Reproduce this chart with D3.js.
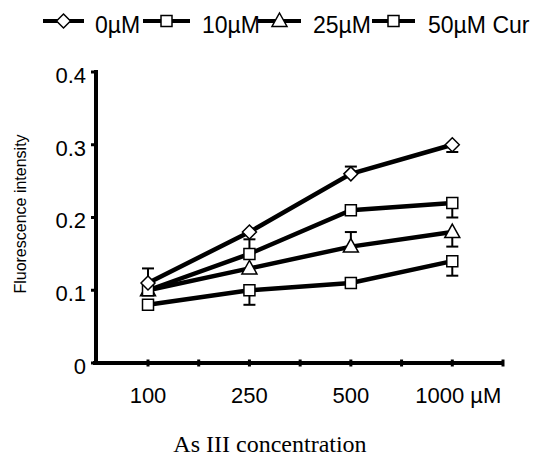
<!DOCTYPE html>
<html>
<head>
<meta charset="utf-8">
<script src="https://cdn.jsdelivr.net/npm/d3@7"></script>
<style>
  body { margin: 0; background: #fff; }
  svg { display: block; }
</style>
</head>
<body>
<svg id="chart" width="537" height="457"></svg>
<script>
// concentrations on the x axis (only even slots carry data)
var concentrations = ["100", "250", "500", "1000 \u00b5M"];
var slotCount = 8;
var yTicks = [0, 0.1, 0.2, 0.3, 0.4];
var seriesNames = ["0\u00b5M", "10\u00b5M", "25\u00b5M", "50\u00b5M Cur"];
var seriesShapes = ["diamond", "square", "triangle", "square"];

var values0 = [0.11, 0.18, 0.26, 0.30];
var values10 = [0.10, 0.15, 0.21, 0.22];
var values25 = [0.10, 0.13, 0.16, 0.18];
var values50 = [0.08, 0.10, 0.11, 0.14];

// error bars: positive drawn upward, negative drawn downward, 0 = none
var err0 = [0.02, 0, 0.01, -0.01];
var err10 = [0, 0.02, 0, -0.02];
var err25 = [0, 0, 0.02, -0.02];
var err50 = [0, -0.02, 0, -0.02];

var allValues = [values0, values10, values25, values50];
var allErr = [err0, err10, err25, err50];

var sans = "'Liberation Sans', Arial, sans-serif";
var serif = "'Liberation Serif', 'Times New Roman', serif";

var svg = d3.select("#chart");

var x = d3.scaleLinear().domain([0, 7]).range([148, 503]);
var y = d3.scaleLinear().domain([0, 0.4]).range([363, 72]);

function symbolPath(shape) {
    if (shape == "diamond") return "M0,-7L7,0L0,7L-7,0Z";
    if (shape == "triangle") return "M0,-8L7.5,5.5L-7.5,5.5Z";
    return "M-5.5,-5.5H5.5V5.5H-5.5Z";
}

// axes
var axisG = svg.append("g");
axisG.append("line")
    .attr("x1", 96).attr("x2", 96)
    .attr("y1", y(0.4) - 2).attr("y2", y(0) + 2)
    .attr("stroke", "#000").attr("stroke-width", 4);
axisG.append("line")
    .attr("x1", 93).attr("x2", x(7) + 1)
    .attr("y1", y(0)).attr("y2", y(0))
    .attr("stroke", "#000").attr("stroke-width", 4);

yTicks.forEach(function (t) {
    axisG.append("line")
        .attr("x1", 91).attr("x2", 96)
        .attr("y1", y(t)).attr("y2", y(t))
        .attr("stroke", "#000").attr("stroke-width", 3);
    axisG.append("text")
        .attr("x", 86).attr("y", y(t) + 3)
        .attr("dy", "0.36em")
        .attr("text-anchor", "end")
        .attr("font-family", sans)
        .attr("font-size", 22)
        .text(t == 0 ? "0" : d3.format(".1f")(t));
});

d3.range(slotCount).forEach(function (i) {
    axisG.append("line")
        .attr("x1", x(i)).attr("x2", x(i))
        .attr("y1", y(0) - 3.5).attr("y2", y(0) + 3.5)
        .attr("stroke", "#000").attr("stroke-width", 3);
});

concentrations.forEach(function (c, i) {
    var xp = x(i * 2);
    if (i == concentrations.length - 1) xp += 6;
    axisG.append("text")
        .attr("x", xp).attr("y", 395)
        .attr("dy", "0.36em")
        .attr("text-anchor", "middle")
        .attr("font-family", sans)
        .attr("font-size", 22)
        .text(c);
});

svg.append("text")
    .attr("x", 270).attr("y", 452)
    .attr("text-anchor", "middle")
    .attr("font-family", serif)
    .attr("font-size", 24)
    .text("As III concentration");

svg.append("text")
    .attr("transform", "translate(20,214) rotate(-90)")
    .attr("text-anchor", "middle")
    .attr("dy", "0.36em")
    .attr("font-family", sans)
    .attr("font-size", 16)
    .text("Fluorescence intensity");

// lines, drawn from last series to first so the top series sits above
var line = d3.line()
    .x(function (d, i) { return x(i * 2); })
    .y(function (d) { return y(d); });

var order = [3, 2, 1, 0];
order.forEach(function (s) {
    var vals = allValues[s];
    var errs = allErr[s];
    var g = svg.append("g");

    errs.forEach(function (e, i) {
        if (e == 0) return;
        var xp = x(i * 2);
        g.append("line")
            .attr("x1", xp).attr("x2", xp)
            .attr("y1", y(vals[i])).attr("y2", y(vals[i] + e))
            .attr("stroke", "#000").attr("stroke-width", 2);
        g.append("line")
            .attr("x1", xp - 6).attr("x2", xp + 6)
            .attr("y1", y(vals[i] + e)).attr("y2", y(vals[i] + e))
            .attr("stroke", "#000").attr("stroke-width", 2);
    });

    g.append("path")
        .datum(vals)
        .attr("d", line)
        .attr("fill", "none")
        .attr("stroke", "#000")
        .attr("stroke-width", 4.5);

    g.selectAll(".marker")
        .data(vals)
        .enter().append("path")
        .attr("class", "marker")
        .attr("transform", function (d, i) { return "translate(" + x(i * 2) + "," + y(d) + ")"; })
        .attr("d", symbolPath(seriesShapes[s]))
        .attr("fill", "#fff")
        .attr("stroke", "#000")
        .attr("stroke-width", 1.5);
});

// legend: line start, line end, text start
var legendLine = [[43, 84], [143, 190], [258, 301], [372, 415]];
var legendText = [95, 202, 313, 428];
var legendY = 21;
seriesNames.forEach(function (name, i) {
    var lg = svg.append("g");
    var l = legendLine[i];
    lg.append("line")
        .attr("x1", l[0]).attr("x2", l[1])
        .attr("y1", legendY).attr("y2", legendY)
        .attr("stroke", "#000").attr("stroke-width", 4);
    lg.append("path")
        .attr("transform", "translate(" + ((l[0] + l[1]) / 2) + "," + legendY + ")")
        .attr("d", symbolPath(seriesShapes[i]))
        .attr("fill", "#fff")
        .attr("stroke", "#000")
        .attr("stroke-width", 1.5);
    lg.append("text")
        .attr("x", legendText[i]).attr("y", 33)
        .attr("font-family", sans)
        .attr("font-size", 23)
        .text(name);
});
</script>
</body>
</html>
